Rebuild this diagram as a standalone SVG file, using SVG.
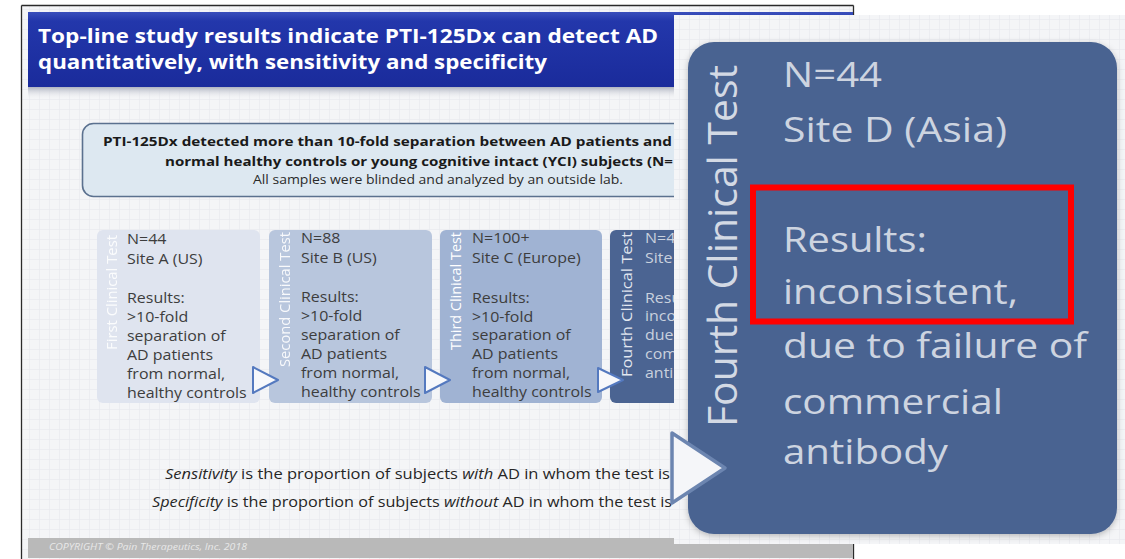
<svg xmlns="http://www.w3.org/2000/svg" width="1125" height="559" viewBox="0 0 1125 559">
<defs>
<pattern id="grid" width="10" height="10" patternUnits="userSpaceOnUse">
<rect width="10" height="10" fill="#f4f5f7"/>
<path d="M9.5 0V10M0 9.5H10" stroke="#e8eaee" stroke-width="0.7" fill="none"/>
</pattern>
<linearGradient id="hdr" x1="0" y1="0" x2="0" y2="1">
<stop offset="0" stop-color="#3a4fbc"/>
<stop offset="0.12" stop-color="#2337ab"/>
<stop offset="1" stop-color="#1a2b9b"/>
</linearGradient>
<linearGradient id="hshadow" x1="0" y1="0" x2="0" y2="1">
<stop offset="0" stop-color="#aeb3c0"/>
<stop offset="1" stop-color="#f4f5f7" stop-opacity="0"/>
</linearGradient>
<filter id="soft" x="-5%" y="-5%" width="110%" height="110%">
<feDropShadow dx="0" dy="2" stdDeviation="3" flood-color="#000" flood-opacity="0.25"/>
</filter>
</defs>
<style>
.f{font-family:"Open Sans","Liberation Sans",sans-serif}
.title{font-family:"Open Sans","Liberation Sans",sans-serif;font-weight:bold;font-size:19px;fill:#ffffff}
.cb{font-family:"Open Sans","Liberation Sans",sans-serif;font-weight:bold;font-size:13px;fill:#1a1a1a}
.cr{font-family:"Open Sans","Liberation Sans",sans-serif;font-size:12px;fill:#2a2a2a}
.bt{font-family:"Open Sans","Liberation Sans",sans-serif;font-size:14px;fill:#3d3d3d}
.bt4{font-family:"Open Sans","Liberation Sans",sans-serif;font-size:14px;fill:#c9d1de}
.lab{font-family:"Open Sans","Liberation Sans",sans-serif;font-size:15px;fill:#ffffff}
.sens{font-family:"Open Sans","Liberation Sans",sans-serif;font-size:15px;fill:#262626}
.it{font-style:italic}
.chev{fill:#f7f8fb;stroke:#5479bf;stroke-width:2;stroke-linejoin:round}
.ins{font-family:"Open Sans","Liberation Sans",sans-serif;font-size:34px;fill:#cdd4e0}
</style>
<rect width="1125" height="559" fill="#ffffff"/>
<g id="slide">
<rect x="21" y="5" width="832" height="560" fill="url(#grid)"/>
<path d="M21.5 5.5H853.5M21.5 5.5V559M853.5 5.5V559" stroke="#2a2a2a" stroke-width="1.3" fill="none"/>
<rect x="28" y="87" width="825" height="12" fill="url(#hshadow)"/>
<rect x="28" y="12" width="825" height="75" fill="url(#hdr)"/>
<text class="title" x="38" y="43" textLength="620" lengthAdjust="spacingAndGlyphs">Top-line study results indicate PTI-125Dx can detect AD</text>
<text class="title" x="38" y="69" textLength="509" lengthAdjust="spacingAndGlyphs">quantitatively, with sensitivity and specificity</text>
<rect x="28" y="538" width="825" height="20" fill="#b9b9b9"/>
<text class="f it" x="49" y="550" font-size="9.5" fill="#e8e8e8" textLength="198" lengthAdjust="spacingAndGlyphs">COPYRIGHT © Pain Therapeutics, Inc. 2018</text>
</g>
<g id="callout">
<rect x="82.5" y="123.5" width="711" height="73" rx="11" fill="#dde8f1" stroke="#5b718f" stroke-width="1.6"/>
<text class="cb" x="103" y="146" textLength="569" lengthAdjust="spacingAndGlyphs">PTI-125Dx detected more than 10-fold separation between AD patients and</text>
<text class="cb" x="165" y="166" textLength="508" lengthAdjust="spacingAndGlyphs">normal healthy controls or young cognitive intact (YCI) subjects (N=</text>
<text class="cr" x="253" y="184" textLength="370" lengthAdjust="spacingAndGlyphs">All samples were blinded and analyzed by an outside lab.</text>
</g>
<g id="test1">
<rect x="97" y="230" width="163" height="173" rx="6" fill="#dfe4ef"/>
<text class="lab" transform="translate(117,350) rotate(-90)" textLength="115" lengthAdjust="spacingAndGlyphs" opacity="0.9">First Clinical Test</text>
<g class="bt" transform="matrix(1.14 0 0 1 127 0)">
<text x="0" y="244">N=44</text>
<text x="0" y="264">Site A (US)</text>
<text x="0" y="303">Results:</text>
<text x="0" y="322">&gt;10-fold</text>
<text x="0" y="341">separation of</text>
<text x="0" y="360">AD patients</text>
<text x="0" y="379">from normal,</text>
<text x="0" y="398">healthy controls</text>
</g>
</g>
<g id="test2">
<rect x="269" y="230" width="163" height="173" rx="6" fill="#b8c6dd"/>
<text class="lab" transform="translate(290,367) rotate(-90)" textLength="135" lengthAdjust="spacingAndGlyphs" opacity="0.9">Second Clinical Test</text>
<g class="bt" transform="matrix(1.14 0 0 1 301 0)">
<text x="0" y="243">N=88</text>
<text x="0" y="263">Site B (US)</text>
<text x="0" y="302">Results:</text>
<text x="0" y="321">&gt;10-fold</text>
<text x="0" y="340">separation of</text>
<text x="0" y="359">AD patients</text>
<text x="0" y="378">from normal,</text>
<text x="0" y="397">healthy controls</text>
</g>
</g>
<g id="test3">
<rect x="440" y="230" width="162" height="173" rx="6" fill="#a0b3d3"/>
<text class="lab" transform="translate(461,350) rotate(-90)" textLength="118" lengthAdjust="spacingAndGlyphs">Third Clinical Test</text>
<g class="bt" transform="matrix(1.14 0 0 1 472 0)">
<text x="0" y="243">N=100+</text>
<text x="0" y="263">Site C (Europe)</text>
<text x="0" y="303">Results:</text>
<text x="0" y="322">&gt;10-fold</text>
<text x="0" y="340">separation of</text>
<text x="0" y="359">AD patients</text>
<text x="0" y="378">from normal,</text>
<text x="0" y="397">healthy controls</text>
</g>
</g>
<g id="test4">
<rect x="610" y="230" width="163" height="173" rx="6" fill="#4b6492"/>
<text class="lab" transform="translate(632,377) rotate(-90)" textLength="145" lengthAdjust="spacingAndGlyphs" style="fill:#e2e7f0">Fourth Clinical Test</text>
<g class="bt4" transform="matrix(1.14 0 0 1 645 0)">
<text x="0" y="243">N=4</text>
<text x="0" y="263">Site</text>
<text x="0" y="303">Resu</text>
<text x="0" y="321">inco</text>
<text x="0" y="340">due</text>
<text x="0" y="359">com</text>
<text x="0" y="378">anti</text>
</g>
</g>
<g id="connectors">
<polygon class="chev" points="253,367 278,380 253,393"/>
<polygon class="chev" points="425,367 450,380 425,393"/>
<polygon class="chev" points="598,368 623,380 598,392"/>
</g>
<g id="definitions">
<text class="sens" x="165" y="479" textLength="505" lengthAdjust="spacingAndGlyphs"><tspan class="it">Sensitivity</tspan> is the proportion of subjects <tspan class="it">with</tspan> AD in whom the test is</text>
<text class="sens" x="152" y="507" textLength="520" lengthAdjust="spacingAndGlyphs"><tspan class="it">Specificity</tspan> is the proportion of subjects <tspan class="it">without</tspan> AD in whom the test is</text>
</g>
<g id="inset">
<rect x="674" y="15" width="451" height="529" fill="url(#grid)"/>
<rect x="688" y="42" width="429" height="492" rx="26" fill="#4a6491" filter="url(#soft)"/>
<polygon points="672,433 725,468 672,503" fill="#f5f6f9" stroke="#6c85b0" stroke-width="3.5" stroke-linejoin="round"/>
<text class="ins" transform="translate(737,427) rotate(-90)" textLength="362" lengthAdjust="spacingAndGlyphs" style="font-size:40px;fill:#d3d9e4">Fourth Clinical Test</text>
<text class="ins" x="783" y="87" textLength="99" lengthAdjust="spacingAndGlyphs">N=44</text>
<text class="ins" x="783" y="142" textLength="224" lengthAdjust="spacingAndGlyphs">Site D (Asia)</text>
<text class="ins" x="783" y="252" textLength="144" lengthAdjust="spacingAndGlyphs">Results:</text>
<text class="ins" x="783" y="304" textLength="235" lengthAdjust="spacingAndGlyphs">inconsistent,</text>
<text class="ins" x="783" y="358" textLength="304" lengthAdjust="spacingAndGlyphs">due to failure of</text>
<text class="ins" x="783" y="414" textLength="220" lengthAdjust="spacingAndGlyphs">commercial</text>
<text class="ins" x="783" y="464" textLength="165" lengthAdjust="spacingAndGlyphs">antibody</text>
<rect x="753" y="187.5" width="318" height="134" fill="none" stroke="#ff0000" stroke-width="6"/>
</g>
</svg>
